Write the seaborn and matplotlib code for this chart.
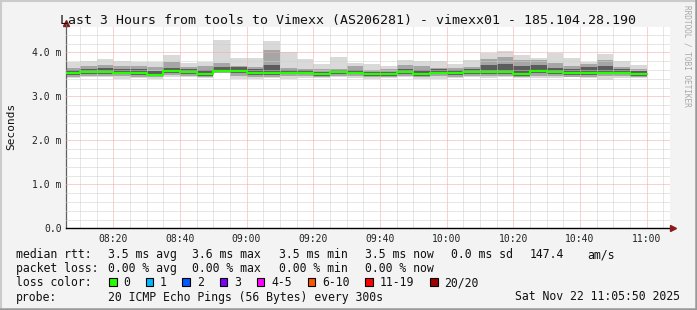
import numpy as np
import pandas as pd
import matplotlib
matplotlib.use("Agg")
import matplotlib.pyplot as plt
import seaborn as sns
from matplotlib.patches import Rectangle
from matplotlib.lines import Line2D
from matplotlib.ticker import FixedLocator, MultipleLocator

# ---------------- data ----------------
slot_times = ["08:05", "08:10", "08:15", "08:20", "08:25", "08:30", "08:35", "08:40", "08:45",
              "08:50", "08:55", "09:00", "09:05", "09:10", "09:15", "09:20", "09:25", "09:30",
              "09:35", "09:40", "09:45", "09:50", "09:55", "10:00", "10:05", "10:10", "10:15",
              "10:20", "10:25", "10:30", "10:35", "10:40", "10:45", "10:50", "10:55"]

rtt_max = [3.77, 3.80, 3.84, 3.81, 3.78, 3.79, 3.93, 3.76, 3.78, 4.27, 3.87, 3.86, 4.26, 4.01,
           3.84, 3.74, 3.89, 3.76, 3.74, 3.68, 3.83, 3.80, 3.80, 3.74, 3.82, 3.99, 4.02, 3.93,
           3.88, 3.99, 3.86, 3.78, 3.97, 3.81, 3.70]
rtt_p90 = [3.65, 3.69, 3.72, 3.70, 3.69, 3.67, 3.78, 3.67, 3.69, 3.76, 3.70, 3.67, 4.05, 3.65,
           3.63, 3.61, 3.62, 3.69, 3.60, 3.63, 3.71, 3.69, 3.65, 3.65, 3.67, 3.84, 3.89, 3.82,
           3.82, 3.76, 3.69, 3.73, 3.83, 3.67, 3.63]
rtt_p75 = [3.60, 3.63, 3.65, 3.62, 3.61, 3.58, 3.64, 3.62, 3.60, 3.66, 3.67, 3.61, 3.72, 3.60,
           3.59, 3.56, 3.60, 3.60, 3.56, 3.56, 3.63, 3.60, 3.61, 3.59, 3.61, 3.72, 3.74, 3.69,
           3.72, 3.64, 3.62, 3.66, 3.70, 3.61, 3.58]
rtt_median = [3.53, 3.55, 3.55, 3.53, 3.53, 3.49, 3.57, 3.55, 3.50, 3.58, 3.57, 3.53, 3.53, 3.53,
              3.54, 3.50, 3.55, 3.54, 3.50, 3.50, 3.55, 3.50, 3.54, 3.53, 3.55, 3.55, 3.55, 3.50,
              3.58, 3.55, 3.53, 3.54, 3.54, 3.54, 3.50]
rtt_p25 = [3.49, 3.51, 3.51, 3.50, 3.49, 3.46, 3.53, 3.51, 3.47, 3.55, 3.52, 3.49, 3.49, 3.50,
           3.50, 3.46, 3.51, 3.50, 3.47, 3.46, 3.51, 3.47, 3.50, 3.49, 3.51, 3.50, 3.51, 3.46,
           3.52, 3.50, 3.49, 3.48, 3.50, 3.50, 3.46]
rtt_p10 = [3.45, 3.47, 3.47, 3.46, 3.45, 3.43, 3.49, 3.47, 3.44, 3.54, 3.47, 3.45, 3.45, 3.46,
           3.46, 3.43, 3.47, 3.46, 3.44, 3.43, 3.47, 3.44, 3.46, 3.45, 3.47, 3.46, 3.47, 3.43,
           3.47, 3.46, 3.45, 3.44, 3.46, 3.46, 3.43]
rtt_min = [3.42, 3.43, 3.43, 3.40, 3.41, 3.40, 3.45, 3.43, 3.41, 3.53, 3.40, 3.40, 3.42, 3.40,
           3.42, 3.41, 3.43, 3.42, 3.40, 3.41, 3.43, 3.40, 3.39, 3.42, 3.43, 3.42, 3.43, 3.41,
           3.42, 3.41, 3.43, 3.41, 3.38, 3.42, 3.41]

x_tick_labels = ["08:20", "08:40", "09:00", "09:20", "09:40", "10:00", "10:20", "10:40", "11:00"]
y_tick_labels = ["0.0", "1.0 m", "2.0 m", "3.0 m", "4.0 m"]

title = "Last 3 Hours from tools to Vimexx (AS206281) - vimexx01 - 185.104.28.190"
rtt_stats = ["3.5 ms avg", "3.6 ms max", "3.5 ms min", "3.5 ms now", "0.0 ms sd", "147.4", "am/s"]
loss_stats = ["0.00 % avg", "0.00 % max", "0.00 % min", "0.00 % now"]
loss_labels = ["0", "1", "2", "3", "4-5", "6-10", "11-19", "20/20"]
loss_colors = ["#26ff00", "#00b8ff", "#0059ff", "#7e00ff", "#ff00ff", "#ff5500", "#ff0000", "#a00000"]
probe_text = "20 ICMP Echo Pings (56 Bytes) every 300s"
date_text = "Sat Nov 22 11:05:50 2025"

# ---------------- helpers ----------------
W, H = 697, 310
def to_min(s):
    h, m = s.split(":")
    return (int(h) - 8) * 60 + int(m)

start = pd.DataFrame({"slot": slot_times})
start["t"] = start["slot"].map(to_min)
df = start.assign(mx=rtt_max, p90=rtt_p90, p75=rtt_p75, med=rtt_median,
                  p25=rtt_p25, p10=rtt_p10, mn=rtt_min)

sns.set_style("white")
plt.rcParams["font.family"] = ["DejaVu Sans Mono", "DejaVu Sans"]
MONO = "DejaVu Sans Mono"

fig = plt.figure(figsize=(W / 100, H / 100), dpi=100, facecolor="#f3f3f3")

# plot region in pixels
L, R, T, B = 66, 670, 26.5, 228.3
ax = fig.add_axes([L / W, 1 - B / H, (R - L) / W, (B - T) / H])
ax.set_facecolor("white")

px_per_min = 600 / 180.0
x0 = to_min("08:05") + 50 / 60.0
x1 = x0 + (R - L) / px_per_min
ymax = (B - T) / 44.0
ax.set_xlim(x0, x1)
ax.set_ylim(0, ymax)

slot_w = 5
# smoke layers: outer light -> inner dark
ax.bar(df["t"], df["mx"] - df["mn"], bottom=df["mn"], width=slot_w, align="edge",
       color="#d9d9d9", linewidth=0, zorder=1)
ax.bar(df["t"], df["p90"] - df["p10"], bottom=df["p10"], width=slot_w, align="edge",
       color="#a6a6a6", linewidth=0, zorder=1.1)
ax.bar(df["t"], df["p75"] - df["p25"], bottom=df["p25"], width=slot_w, align="edge",
       color="#5c5c5c", linewidth=0, zorder=1.2)

# median line (steps)
line_df = pd.DataFrame({"t": list(df["t"]) + [to_min("11:00")],
                        "med": list(df["med"]) + [df["med"].iloc[-1]]})
sns.lineplot(data=line_df, x="t", y="med", drawstyle="steps-post", color="#26ff00",
             linewidth=1.6, ax=ax, legend=False, errorbar=None, zorder=4)

# grid
ax.xaxis.set_major_locator(FixedLocator([to_min(s) for s in x_tick_labels]))
ax.xaxis.set_minor_locator(MultipleLocator(5))
ax.yaxis.set_major_locator(FixedLocator(range(len(y_tick_labels))))
ax.yaxis.set_minor_locator(MultipleLocator(0.2))
ax.set_axisbelow(False)
ax.grid(which="minor", color="#cfcfcf", linestyle=(0, (1, 1)), linewidth=0.72, zorder=2)
ax.grid(which="major", color="#f3a6a6", linestyle=(0, (1, 1)), linewidth=0.72, zorder=2.1)
ax.set_xticklabels(x_tick_labels)
ax.set_yticklabels(y_tick_labels)
ax.tick_params(axis="x", which="both", length=0, pad=3.8, labelsize=7, labelcolor="#222222")
ax.tick_params(axis="y", which="both", direction="out", length=1.6, width=0.7,
               color="#606060", pad=1.6, labelsize=7, labelcolor="#222222")
for lab in ax.get_xticklabels() + ax.get_yticklabels():
    lab.set_fontfamily(MONO)
ax.set_xlabel("")
ax.set_ylabel("")

for s in ["top", "right"]:
    ax.spines[s].set_visible(False)
ax.spines["left"].set_color("#606060")
ax.spines["left"].set_linewidth(0.9)
ax.spines["bottom"].set_color("#000000")
ax.spines["bottom"].set_linewidth(1.0)
ax.spines["bottom"].set_zorder(5)

# axis arrows
fig.add_artist(Line2D([L / W], [1 - 22.5 / H], marker="^", markersize=4.5, color="#8b1a1a",
                      transform=fig.transFigure))
fig.add_artist(Line2D([L / W, L / W], [1 - 26.5 / H, 1 - 23 / H], color="#606060", lw=0.9,
                      transform=fig.transFigure))
fig.add_artist(Line2D([R / W, 672 / W], [1 - B / H, 1 - B / H], color="#000000", lw=1.0,
                      transform=fig.transFigure))
fig.add_artist(Line2D([673 / W], [1 - B / H], marker=">", markersize=4.5, color="#8b1a1a",
                      transform=fig.transFigure))

def ftext(x, y, s, **kw):
    kw.setdefault("fontsize", 8.3)
    kw.setdefault("family", MONO)
    kw.setdefault("color", "#111111")
    kw.setdefault("va", "baseline")
    fig.text(x / W, 1 - y / H, s, **kw)

# title, labels
ftext(348.5, 24, title, fontsize=9.55, ha="center")
ftext(11, 126.5, "Seconds", rotation=90, ha="center", va="center", fontsize=8.0)
ftext(687, 5, "RRDTOOL / TOBI OETIKER", rotation=270, ha="center", va="top",
      fontsize=5.6, color="#a8a8a8")

# legend rows
rtt_x = [107.5, 192.4, 279, 365, 451, 530, 587]
ftext(16, 258, "median rtt:")
for s, x in zip(rtt_stats, rtt_x):
    ftext(x, 258, s)
ftext(16, 272, "packet loss:")
for s, x in zip(loss_stats, rtt_x):
    ftext(x, 272, s)
ftext(16, 286.3, "loss color:")
sq_x = [109, 145.5, 182, 220, 256.5, 307.5, 365, 430]
lab_x = [123.6, 160, 197, 234, 271, 322, 380, 444]
for c, lab, sx, lx in zip(loss_colors, loss_labels, sq_x, lab_x):
    fig.add_artist(Rectangle((sx / W, 1 - 286.3 / H), 7.5 / W, 8 / H, transform=fig.transFigure,
                             facecolor=c, edgecolor="black", linewidth=0.8))
    ftext(lx, 286.3, lab)
ftext(16, 300.5, "probe:")
ftext(107.5, 300.5, probe_text)
ftext(680, 300.5, date_text, ha="right")

# outer shading frame
fig.add_artist(Line2D([0, 1], [1 - 0.5 / H, 1 - 0.5 / H], color="#cbcbcb", lw=1.5, transform=fig.transFigure))
fig.add_artist(Line2D([0.5 / W, 0.5 / W], [0, 1], color="#cbcbcb", lw=1.5, transform=fig.transFigure))
fig.add_artist(Line2D([0, 1], [1.2 / H, 1.2 / H], color="#999999", lw=1.8, transform=fig.transFigure))
fig.add_artist(Line2D([1 - 1.2 / W, 1 - 1.2 / W], [0, 1], color="#999999", lw=1.8, transform=fig.transFigure))

fig.savefig("out.png", dpi=100, facecolor=fig.get_facecolor())
